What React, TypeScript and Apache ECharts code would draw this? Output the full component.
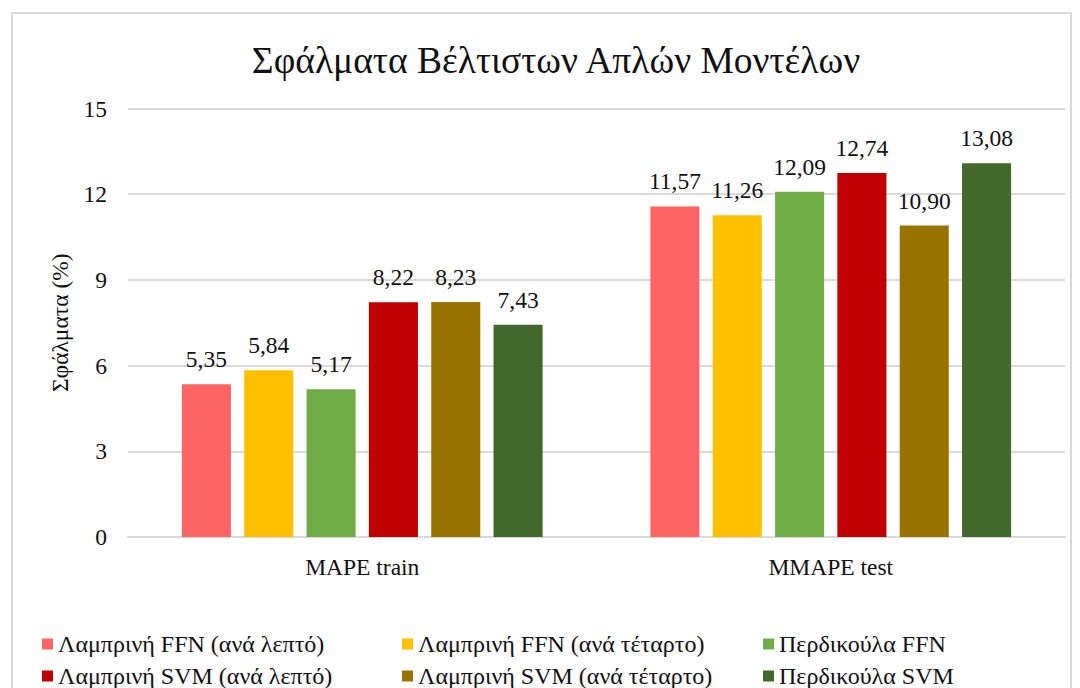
import React, { useEffect, useRef } from "react";
import * as echarts from "echarts";

const categories = ["MAPE train", "MMAPE test"];
const seriesNames = [
  "Λαμπρινή FFN (ανά λεπτό)",
  "Λαμπρινή FFN (ανά τέταρτο)",
  "Περδικούλα FFN",
  "Λαμπρινή SVM (ανά λεπτό)",
  "Λαμπρινή SVM (ανά τέταρτο)",
  "Περδικούλα SVM",
];
const lamprFfnMin = [5.35, 11.57];
const lamprFfnQuarter = [5.84, 11.26];
const perdFfn = [5.17, 12.09];
const lamprSvmMin = [8.22, 12.74];
const lamprSvmQuarter = [8.23, 10.9];
const perdSvm = [7.43, 13.08];
const seriesValues = [lamprFfnMin, lamprFfnQuarter, perdFfn, lamprSvmMin, lamprSvmQuarter, perdSvm];
const colors = ["#FF6464", "#FFC000", "#70AD47", "#C00000", "#997300", "#43682B"];

const FONT = "Liberation Serif";
const FS = 23.5;

export default function App() {
  const ref = useRef<HTMLDivElement>(null);
  useEffect(() => {
    if (!ref.current) return;
    const chart = echarts.init(ref.current, undefined, { renderer: "svg" });
    const legendCols = [
      { left: 42, names: [seriesNames[0], seriesNames[3]] },
      { left: 402, names: [seriesNames[1], seriesNames[4]] },
      { left: 763, names: [seriesNames[2], seriesNames[5]] },
    ];
    chart.setOption({
      animation: false,
      backgroundColor: "#fff",
      textStyle: { fontFamily: FONT },
      title: {
        text: "Σφάλματα Βέλτιστων Απλών Μοντέλων",
        left: 551,
        textAlign: "center",
        top: 36,
        textStyle: { fontFamily: FONT, fontSize: 37.5, fontWeight: "normal", color: "#111" },
      },
      legend: legendCols.map((c) => ({
        data: c.names,
        orient: "vertical",
        left: c.left,
        top: 632,
        itemWidth: 11,
        itemHeight: 11,
        itemGap: 8,
        icon: "rect",
        padding: 0,
        textStyle: { fontFamily: FONT, fontSize: 24, color: "#111", lineHeight: 24 },
      })),
      graphic: [
        {
          type: "rect",
          shape: { x: 12, y: 13, width: 1059, height: 720 },
          style: { fill: "none", stroke: "#d9d9d9", lineWidth: 2 },
          silent: true,
        },
      ],
      grid: { left: 128, right: 15, top: 108.5, bottom: 151, containLabel: false },
      xAxis: {
        type: "category",
        data: categories,
        axisLine: { lineStyle: { color: "#d9d9d9", width: 2 } },
        axisTick: { show: false },
        axisLabel: { fontFamily: FONT, fontSize: FS, color: "#111", margin: 18 },
      },
      yAxis: {
        type: "value",
        min: 0,
        max: 15,
        interval: 3,
        name: "Σφάλματα (%)",
        nameLocation: "middle",
        nameGap: 56,
        nameTextStyle: { fontFamily: FONT, fontSize: FS, color: "#111" },
        axisLine: { show: false },
        axisTick: { show: false },
        axisLabel: { fontFamily: FONT, fontSize: FS, color: "#111", margin: 21 },
        splitLine: { lineStyle: { color: "#d9d9d9", width: 2 } },
      },
      series: seriesNames.map((name, i) => ({
        name,
        type: "bar",
        data: seriesValues[i],
        barCategoryGap: "23%",
        barGap: "27%",
        itemStyle: { color: colors[i] },
        label: {
          show: true,
          position: "top",
          distance: 13,
          fontFamily: FONT,
          fontSize: FS,
          color: "#111",
          formatter: (p: any) => Number(p.value).toFixed(2).replace(".", ","),
        },
      })),
    });
    return () => chart.dispose();
  }, []);
  return (
    <div
      ref={ref}
      style={{ position: "fixed", left: 0, top: 0, width: 1080, height: 688, background: "#fff" }}
    />
  );
}
